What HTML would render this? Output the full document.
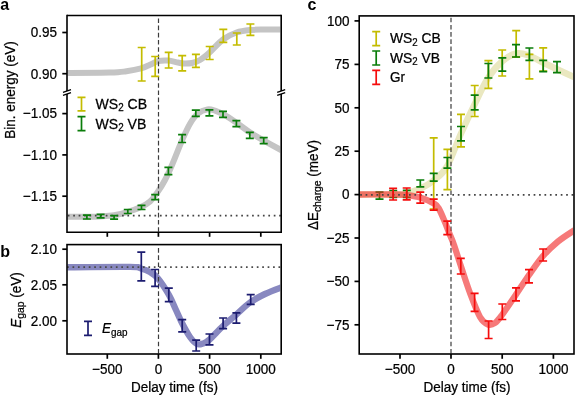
<!DOCTYPE html>
<html><head><meta charset="utf-8"><style>
html,body{margin:0;padding:0;background:#fff;}
svg{display:block;filter:blur(0.35px);}
</style></head><body>
<svg width="575" height="395" viewBox="0 0 575 395">
<defs><clipPath id="ca"><rect x="67.50" y="15.50" width="212.70" height="216.80"/></clipPath>
<clipPath id="cb"><rect x="67.50" y="244.60" width="212.70" height="109.40"/></clipPath>
<clipPath id="cc"><rect x="359.70" y="15.90" width="213.30" height="338.10"/></clipPath></defs>
<rect width="575" height="395" fill="#fff"/>
<g clip-path="url(#ca)">
<path d="M60.00,73.00 C68.33,72.93 98.92,72.90 110.00,72.60 C121.08,72.30 121.33,71.90 126.50,71.20 C131.67,70.50 137.08,69.47 141.00,68.40 C144.92,67.33 147.17,66.00 150.00,64.80 C152.83,63.60 155.00,61.90 158.00,61.20 C161.00,60.50 164.67,60.38 168.00,60.60 C171.33,60.82 175.33,62.02 178.00,62.50 C180.67,62.98 181.67,63.42 184.00,63.50 C186.33,63.58 189.33,63.58 192.00,63.00 C194.67,62.42 197.17,61.67 200.00,60.00 C202.83,58.33 205.17,56.42 209.00,53.00 C212.83,49.58 218.42,42.92 223.00,39.50 C227.58,36.08 232.00,34.08 236.50,32.50 C241.00,30.92 245.25,30.48 250.00,30.00 C254.75,29.52 258.33,29.67 265.00,29.60 C271.67,29.53 285.83,29.60 290.00,29.60" stroke="#c4c4c4" stroke-width="6" fill="none"/>
<path d="M60.00,216.80 C64.50,216.78 80.33,216.77 87.00,216.70 C93.67,216.63 95.50,216.63 100.00,216.40 C104.50,216.17 109.33,216.07 114.00,215.30 C118.67,214.53 123.50,213.18 128.00,211.80 C132.50,210.42 137.33,208.72 141.00,207.00 C144.67,205.28 147.17,204.08 150.00,201.50 C152.83,198.92 155.50,195.08 158.00,191.50 C160.50,187.92 162.67,184.42 165.00,180.00 C167.33,175.58 169.17,171.58 172.00,165.00 C174.83,158.42 179.00,147.38 182.00,140.50 C185.00,133.62 187.33,128.20 190.00,123.70 C192.67,119.20 195.08,115.88 198.00,113.50 C200.92,111.12 204.67,109.88 207.50,109.40 C210.33,108.92 212.38,109.80 215.00,110.60 C217.62,111.40 219.62,112.17 223.20,114.20 C226.78,116.23 232.07,119.78 236.50,122.80 C240.93,125.82 245.23,129.33 249.80,132.30 C254.37,135.27 258.70,137.65 263.90,140.60 C269.10,143.55 276.65,147.68 281.00,150.00 C285.35,152.32 288.50,153.75 290.00,154.50" stroke="#c4c4c4" stroke-width="6" fill="none"/>
</g>
<line x1="158.50" y1="16.50" x2="158.50" y2="232.30" stroke="#3c3c3c" stroke-width="1.2" stroke-dasharray="4.6 2.6" stroke-dashoffset="-1.90"/>
<line x1="67.80" y1="215.60" x2="281.20" y2="215.60" stroke="#444" stroke-width="1.7" stroke-dasharray="1.7 3.72"/>
<path d="M141.70,47.50V81.00M137.70,47.50H145.70M137.70,81.00H145.70" stroke="#c4bc00" stroke-width="1.70" fill="none"/>
<path d="M155.20,56.50V76.40M151.20,56.50H159.20M151.20,76.40H159.20" stroke="#c4bc00" stroke-width="1.70" fill="none"/>
<path d="M168.70,52.30V68.00M164.70,52.30H172.70M164.70,68.00H172.70" stroke="#c4bc00" stroke-width="1.70" fill="none"/>
<path d="M182.20,55.70V70.80M178.20,55.70H186.20M178.20,70.80H186.20" stroke="#c4bc00" stroke-width="1.70" fill="none"/>
<path d="M195.90,54.40V67.40M191.90,54.40H199.90M191.90,67.40H199.90" stroke="#c4bc00" stroke-width="1.70" fill="none"/>
<path d="M209.70,46.50V59.50M205.70,46.50H213.70M205.70,59.50H213.70" stroke="#c4bc00" stroke-width="1.70" fill="none"/>
<path d="M223.30,29.40V42.40M219.30,29.40H227.30M219.30,42.40H227.30" stroke="#c4bc00" stroke-width="1.70" fill="none"/>
<path d="M236.80,33.00V45.00M232.80,33.00H240.80M232.80,45.00H240.80" stroke="#c4bc00" stroke-width="1.70" fill="none"/>
<path d="M250.40,24.00V35.30M246.40,24.00H254.40M246.40,35.30H254.40" stroke="#c4bc00" stroke-width="1.70" fill="none"/>
<path d="M86.90,215.20V219.00M82.90,215.20H90.90M82.90,219.00H90.90" stroke="#0a7d0a" stroke-width="1.70" fill="none"/>
<path d="M100.60,214.30V217.80M96.60,214.30H104.60M96.60,217.80H104.60" stroke="#0a7d0a" stroke-width="1.70" fill="none"/>
<path d="M114.10,215.70V219.20M110.10,215.70H118.10M110.10,219.20H118.10" stroke="#0a7d0a" stroke-width="1.70" fill="none"/>
<path d="M127.80,209.50V213.50M123.80,209.50H131.80M123.80,213.50H131.80" stroke="#0a7d0a" stroke-width="1.70" fill="none"/>
<path d="M141.50,205.30V209.50M137.50,205.30H145.50M137.50,209.50H145.50" stroke="#0a7d0a" stroke-width="1.70" fill="none"/>
<path d="M155.20,194.70V199.60M151.20,194.70H159.20M151.20,199.60H159.20" stroke="#0a7d0a" stroke-width="1.70" fill="none"/>
<path d="M168.40,167.30V174.60M164.40,167.30H172.40M164.40,174.60H172.40" stroke="#0a7d0a" stroke-width="1.70" fill="none"/>
<path d="M182.10,134.70V142.50M178.10,134.70H186.10M178.10,142.50H186.10" stroke="#0a7d0a" stroke-width="1.70" fill="none"/>
<path d="M195.80,110.10V116.40M191.80,110.10H199.80M191.80,116.40H199.80" stroke="#0a7d0a" stroke-width="1.70" fill="none"/>
<path d="M209.40,109.80V115.80M205.40,109.80H213.40M205.40,115.80H213.40" stroke="#0a7d0a" stroke-width="1.70" fill="none"/>
<path d="M223.00,111.30V117.40M219.00,111.30H227.00M219.00,117.40H227.00" stroke="#0a7d0a" stroke-width="1.70" fill="none"/>
<path d="M236.40,120.60V126.70M232.40,120.60H240.40M232.40,126.70H240.40" stroke="#0a7d0a" stroke-width="1.70" fill="none"/>
<path d="M249.80,132.30V138.30M245.80,132.30H253.80M245.80,138.30H253.80" stroke="#0a7d0a" stroke-width="1.70" fill="none"/>
<path d="M263.70,137.60V143.70M259.70,137.60H267.70M259.70,143.70H267.70" stroke="#0a7d0a" stroke-width="1.70" fill="none"/>
<path d="M67.00,14.70V91.10M67.00,93.90V233.10" stroke="#000" stroke-width="1.60" fill="none"/>
<path d="M63.00,92.40L71.00,89.70M63.00,95.30L71.00,92.60" stroke="#000" stroke-width="1.3" fill="none"/>
<path d="M281.20,14.70V91.10M281.20,93.90V233.10" stroke="#000" stroke-width="1.60" fill="none"/>
<path d="M277.20,92.40L285.20,89.70M277.20,95.30L285.20,92.60" stroke="#000" stroke-width="1.3" fill="none"/>
<path d="M67.00,15.50H281.20M67.00,232.30H281.20" stroke="#000" stroke-width="1.60" fill="none"/>
<path d="M62.3,32.50H67.00" stroke="#000" stroke-width="1.70"/>
<path d="M62.3,73.70H67.00" stroke="#000" stroke-width="1.70"/>
<path d="M62.3,113.60H67.00" stroke="#000" stroke-width="1.70"/>
<path d="M62.3,154.90H67.00" stroke="#000" stroke-width="1.70"/>
<path d="M62.3,196.20H67.00" stroke="#000" stroke-width="1.70"/>
<path d="M107.30,232.30V236.8" stroke="#000" stroke-width="1.70"/>
<path d="M158.40,232.30V236.8" stroke="#000" stroke-width="1.70"/>
<path d="M209.60,232.30V236.8" stroke="#000" stroke-width="1.70"/>
<path d="M260.80,232.30V236.8" stroke="#000" stroke-width="1.70"/>
<text transform="matrix(0.944,0,0,1,57.00,37.30)" text-anchor="end" font-size="14.3" font-family="Liberation Sans, sans-serif" stroke="#000" stroke-width="0.25" >0.95</text>
<text transform="matrix(0.944,0,0,1,57.00,78.50)" text-anchor="end" font-size="14.3" font-family="Liberation Sans, sans-serif" stroke="#000" stroke-width="0.25" >0.90</text>
<text transform="matrix(0.944,0,0,1,57.00,118.40)" text-anchor="end" font-size="14.3" font-family="Liberation Sans, sans-serif" stroke="#000" stroke-width="0.25" >−1.05</text>
<text transform="matrix(0.944,0,0,1,57.00,159.70)" text-anchor="end" font-size="14.3" font-family="Liberation Sans, sans-serif" stroke="#000" stroke-width="0.25" >−1.10</text>
<text transform="matrix(0.944,0,0,1,57.00,201.00)" text-anchor="end" font-size="14.3" font-family="Liberation Sans, sans-serif" stroke="#000" stroke-width="0.25" >−1.15</text>
<path d="M81.50,97.30V110.90M77.50,97.30H85.50M77.50,110.90H85.50" stroke="#c4bc00" stroke-width="1.70" fill="none"/>
<path d="M81.50,116.70V130.70M77.50,116.70H85.50M77.50,130.70H85.50" stroke="#0a7d0a" stroke-width="1.70" fill="none"/>
<text transform="matrix(0.985,0,0,1,95.50,108.80)" font-size="14.3" font-family="Liberation Sans, sans-serif" stroke="#000" stroke-width="0.25" >WS<tspan font-size="10" dy="2.6">2</tspan><tspan dy="-2.6"> CB</tspan></text>
<text transform="matrix(0.985,0,0,1,95.50,128.60)" font-size="14.3" font-family="Liberation Sans, sans-serif" stroke="#000" stroke-width="0.25" >WS<tspan font-size="10" dy="2.6">2</tspan><tspan dy="-2.6"> VB</tspan></text>
<text transform="translate(15.30,90.00) rotate(-90) scale(0.944,1)" text-anchor="middle" font-size="14.3" font-family="Liberation Sans, sans-serif" stroke="#000" stroke-width="0.25">Bin. energy (eV)</text>
<text x="0.3" y="9.8" font-size="16" font-weight="bold" font-family="Liberation Sans, sans-serif">a</text>
<path d="M60.00,267.30 C71.67,267.23 116.50,266.70 130.00,266.90 C143.50,267.10 137.67,267.65 141.00,268.50 C144.33,269.35 147.17,270.33 150.00,272.00 C152.83,273.67 154.83,274.67 158.00,278.50 C161.17,282.33 166.00,289.75 169.00,295.00 C172.00,300.25 173.83,305.33 176.00,310.00 C178.17,314.67 179.67,318.50 182.00,323.00 C184.33,327.50 187.50,333.50 190.00,337.00 C192.50,340.50 194.83,342.92 197.00,344.00 C199.17,345.08 201.00,344.17 203.00,343.50 C205.00,342.83 205.67,342.92 209.00,340.00 C212.33,337.08 218.50,330.20 223.00,326.00 C227.50,321.80 231.50,318.72 236.00,314.80 C240.50,310.88 245.17,305.97 250.00,302.50 C254.83,299.03 259.83,296.48 265.00,294.00 C270.17,291.52 276.83,289.13 281.00,287.60 C285.17,286.07 288.50,285.27 290.00,284.80" stroke="#8888c0" stroke-width="6.4" fill="none" clip-path="url(#cb)"/>
<line x1="67.10" y1="267.20" x2="281.20" y2="267.20" stroke="#4a4a4a" stroke-width="1.7" stroke-dasharray="1.7 3.72"/>
<line x1="158.50" y1="245.60" x2="158.50" y2="354.00" stroke="#3c3c3c" stroke-width="1.2" stroke-dasharray="4.6 2.6" stroke-dashoffset="-2.50"/>
<path d="M141.30,252.10V280.80M137.30,252.10H145.30M137.30,280.80H145.30" stroke="#1c1c70" stroke-width="1.70" fill="none"/>
<path d="M155.10,269.50V286.30M151.10,269.50H159.10M151.10,286.30H159.10" stroke="#1c1c70" stroke-width="1.70" fill="none"/>
<path d="M168.80,288.10V301.60M164.80,288.10H172.80M164.80,301.60H172.80" stroke="#1c1c70" stroke-width="1.70" fill="none"/>
<path d="M182.20,319.60V331.90M178.20,319.60H186.20M178.20,331.90H186.20" stroke="#1c1c70" stroke-width="1.70" fill="none"/>
<path d="M196.20,340.20V351.00M192.20,340.20H200.20M192.20,351.00H200.20" stroke="#1c1c70" stroke-width="1.70" fill="none"/>
<path d="M209.50,334.00V344.80M205.50,334.00H213.50M205.50,344.80H213.50" stroke="#1c1c70" stroke-width="1.70" fill="none"/>
<path d="M223.10,318.00V328.60M219.10,318.00H227.10M219.10,328.60H227.10" stroke="#1c1c70" stroke-width="1.70" fill="none"/>
<path d="M236.40,312.80V323.10M232.40,312.80H240.40M232.40,323.10H240.40" stroke="#1c1c70" stroke-width="1.70" fill="none"/>
<path d="M250.70,294.70V304.40M246.70,294.70H254.70M246.70,304.40H254.70" stroke="#1c1c70" stroke-width="1.70" fill="none"/>
<rect x="67.00" y="244.60" width="214.20" height="109.40" fill="none" stroke="#000" stroke-width="1.60"/>
<path d="M62.3,249.20H67.00" stroke="#000" stroke-width="1.70"/>
<path d="M62.3,284.80H67.00" stroke="#000" stroke-width="1.70"/>
<path d="M62.3,320.80H67.00" stroke="#000" stroke-width="1.70"/>
<text transform="matrix(0.944,0,0,1,57.00,254.00)" text-anchor="end" font-size="14.3" font-family="Liberation Sans, sans-serif" stroke="#000" stroke-width="0.25" >2.10</text>
<text transform="matrix(0.944,0,0,1,57.00,289.60)" text-anchor="end" font-size="14.3" font-family="Liberation Sans, sans-serif" stroke="#000" stroke-width="0.25" >2.05</text>
<text transform="matrix(0.944,0,0,1,57.00,325.60)" text-anchor="end" font-size="14.3" font-family="Liberation Sans, sans-serif" stroke="#000" stroke-width="0.25" >2.00</text>
<path d="M107.30,354.00V358.8" stroke="#000" stroke-width="1.70"/>
<text transform="matrix(0.944,0,0,1,107.30,374.00)" text-anchor="middle" font-size="14.3" font-family="Liberation Sans, sans-serif" stroke="#000" stroke-width="0.25" >−500</text>
<path d="M158.40,354.00V358.8" stroke="#000" stroke-width="1.70"/>
<text transform="matrix(0.944,0,0,1,158.40,374.00)" text-anchor="middle" font-size="14.3" font-family="Liberation Sans, sans-serif" stroke="#000" stroke-width="0.25" >0</text>
<path d="M209.60,354.00V358.8" stroke="#000" stroke-width="1.70"/>
<text transform="matrix(0.944,0,0,1,209.60,374.00)" text-anchor="middle" font-size="14.3" font-family="Liberation Sans, sans-serif" stroke="#000" stroke-width="0.25" >500</text>
<path d="M260.80,354.00V358.8" stroke="#000" stroke-width="1.70"/>
<text transform="matrix(0.944,0,0,1,260.80,374.00)" text-anchor="middle" font-size="14.3" font-family="Liberation Sans, sans-serif" stroke="#000" stroke-width="0.25" >1000</text>
<text transform="matrix(0.944,0,0,1,174.50,391.50)" text-anchor="middle" font-size="14.3" font-family="Liberation Sans, sans-serif" stroke="#000" stroke-width="0.25" >Delay time (fs)</text>
<path d="M88.00,321.30V335.30M84.00,321.30H92.00M84.00,335.30H92.00" stroke="#1c1c70" stroke-width="1.70" fill="none"/>
<text transform="matrix(0.944,0,0,1,102.00,333.00)" font-size="14.3" font-family="Liberation Sans, sans-serif" stroke="#000" stroke-width="0.25" ><tspan font-style="italic">E</tspan><tspan font-size="10.5" dy="2.6">gap</tspan></text>
<text transform="translate(21.00,300.00) rotate(-90) scale(0.944,1)" text-anchor="middle" font-size="14.3" font-family="Liberation Sans, sans-serif" stroke="#000" stroke-width="0.25"><tspan font-style="italic">E</tspan><tspan font-size="11" dy="2.8">gap</tspan><tspan dy="-2.8"> (eV)</tspan></text>
<text x="0.3" y="256.6" font-size="16" font-weight="bold" font-family="Liberation Sans, sans-serif">b</text>
<path d="M350.00,194.50 C357.50,194.50 385.83,194.62 395.00,194.50 C404.17,194.38 400.83,194.75 405.00,193.80 C409.17,192.85 415.17,191.07 420.00,188.80 C424.83,186.53 429.50,183.92 434.00,180.20 C438.50,176.48 442.50,174.28 447.00,166.50 C451.50,158.72 456.33,144.00 461.00,133.50 C465.67,123.00 470.50,112.75 475.00,103.50 C479.50,94.25 483.50,85.00 488.00,78.00 C492.50,71.00 497.33,65.58 502.00,61.50 C506.67,57.42 511.50,54.50 516.00,53.50 C520.50,52.50 524.50,54.00 529.00,55.50 C533.50,57.00 538.33,60.22 543.00,62.50 C547.67,64.78 551.83,66.78 557.00,69.20 C562.17,71.62 569.33,74.87 574.00,77.00 C578.67,79.13 583.17,81.17 585.00,82.00" stroke="#eae8c0" stroke-width="6.5" fill="none" clip-path="url(#cc)"/>
<path d="M433.70,137.80V209.00M429.70,137.80H437.70M429.70,209.00H437.70" stroke="#c4bc00" stroke-width="1.70" fill="none"/>
<path d="M447.40,149.30V189.60M443.40,149.30H451.40M443.40,189.60H451.40" stroke="#c4bc00" stroke-width="1.70" fill="none"/>
<path d="M461.00,114.30V146.90M457.00,114.30H465.00M457.00,146.90H465.00" stroke="#c4bc00" stroke-width="1.70" fill="none"/>
<path d="M474.70,85.50V116.50M470.70,85.50H478.70M470.70,116.50H478.70" stroke="#c4bc00" stroke-width="1.70" fill="none"/>
<path d="M488.40,60.70V88.30M484.40,60.70H492.40M484.40,88.30H492.40" stroke="#c4bc00" stroke-width="1.70" fill="none"/>
<path d="M502.20,50.00V76.00M498.20,50.00H506.20M498.20,76.00H506.20" stroke="#c4bc00" stroke-width="1.70" fill="none"/>
<path d="M516.20,30.60V57.10M512.20,30.60H520.20M512.20,57.10H520.20" stroke="#c4bc00" stroke-width="1.70" fill="none"/>
<path d="M529.40,54.30V78.80M525.40,54.30H533.40M525.40,78.80H533.40" stroke="#c4bc00" stroke-width="1.70" fill="none"/>
<path d="M543.20,47.90V71.00M539.20,47.90H547.20M539.20,71.00H547.20" stroke="#c4bc00" stroke-width="1.70" fill="none"/>
<path d="M379.50,192.10V199.20M375.50,192.10H383.50M375.50,199.20H383.50" stroke="#0a7d0a" stroke-width="1.70" fill="none"/>
<path d="M393.20,190.50V197.50M389.20,190.50H397.20M389.20,197.50H397.20" stroke="#0a7d0a" stroke-width="1.70" fill="none"/>
<path d="M406.80,190.30V197.30M402.80,190.30H410.80M402.80,197.30H410.80" stroke="#0a7d0a" stroke-width="1.70" fill="none"/>
<path d="M420.30,180.00V186.90M416.30,180.00H424.30M416.30,186.90H424.30" stroke="#0a7d0a" stroke-width="1.70" fill="none"/>
<path d="M433.70,173.40V181.20M429.70,173.40H437.70M429.70,181.20H437.70" stroke="#0a7d0a" stroke-width="1.70" fill="none"/>
<path d="M447.40,157.50V168.10M443.40,157.50H451.40M443.40,168.10H451.40" stroke="#0a7d0a" stroke-width="1.70" fill="none"/>
<path d="M461.00,126.50V140.80M457.00,126.50H465.00M457.00,140.80H465.00" stroke="#0a7d0a" stroke-width="1.70" fill="none"/>
<path d="M474.70,95.20V109.80M470.70,95.20H478.70M470.70,109.80H478.70" stroke="#0a7d0a" stroke-width="1.70" fill="none"/>
<path d="M488.40,63.50V78.00M484.40,63.50H492.40M484.40,78.00H492.40" stroke="#0a7d0a" stroke-width="1.70" fill="none"/>
<path d="M502.30,57.90V71.20M498.30,57.90H506.30M498.30,71.20H506.30" stroke="#0a7d0a" stroke-width="1.70" fill="none"/>
<path d="M516.00,44.60V57.00M512.00,44.60H520.00M512.00,57.00H520.00" stroke="#0a7d0a" stroke-width="1.70" fill="none"/>
<path d="M529.40,48.00V60.30M525.40,48.00H533.40M525.40,60.30H533.40" stroke="#0a7d0a" stroke-width="1.70" fill="none"/>
<path d="M543.20,60.30V71.70M539.20,60.30H547.20M539.20,71.70H547.20" stroke="#0a7d0a" stroke-width="1.70" fill="none"/>
<path d="M557.00,61.70V72.70M553.00,61.70H561.00M553.00,72.70H561.00" stroke="#0a7d0a" stroke-width="1.70" fill="none"/>
<line x1="451.00" y1="16.90" x2="451.00" y2="354.00" stroke="#3c3c3c" stroke-width="1.2" stroke-dasharray="4.6 2.6" stroke-dashoffset="-0.80"/>
<path d="M350.00,194.50 C357.50,194.50 385.50,194.40 395.00,194.50 C404.50,194.60 402.67,194.55 407.00,195.10 C411.33,195.65 416.50,196.40 421.00,197.80 C425.50,199.20 431.08,201.80 434.00,203.50 C436.92,205.20 436.80,205.20 438.50,208.00 C440.20,210.80 442.42,216.13 444.20,220.30 C445.98,224.47 447.57,228.88 449.20,233.00 C450.83,237.12 451.95,239.17 454.00,245.00 C456.05,250.83 458.83,260.00 461.50,268.00 C464.17,276.00 466.92,284.83 470.00,293.00 C473.08,301.17 477.00,311.75 480.00,317.00 C483.00,322.25 485.50,323.50 488.00,324.50 C490.50,325.50 492.67,324.58 495.00,323.00 C497.33,321.42 498.50,319.75 502.00,315.00 C505.50,310.25 511.50,301.17 516.00,294.50 C520.50,287.83 524.50,281.42 529.00,275.00 C533.50,268.58 538.17,261.58 543.00,256.00 C547.83,250.42 552.83,245.75 558.00,241.50 C563.17,237.25 569.50,233.42 574.00,230.50 C578.50,227.58 583.17,225.08 585.00,224.00" stroke="#f02a2a" stroke-opacity="0.63" stroke-width="6.3" fill="none" clip-path="url(#cc)"/>
<line x1="360.20" y1="194.80" x2="574.00" y2="194.80" stroke="#444" stroke-width="1.7" stroke-dasharray="1.7 3.72"/>
<path d="M393.10,188.30V200.00M389.10,188.30H397.10M389.10,200.00H397.10" stroke="#f50c0c" stroke-width="1.70" fill="none"/>
<path d="M406.70,188.00V199.80M402.70,188.00H410.70M402.70,199.80H410.70" stroke="#f50c0c" stroke-width="1.70" fill="none"/>
<path d="M420.30,192.20V203.10M416.30,192.20H424.30M416.30,203.10H424.30" stroke="#f50c0c" stroke-width="1.70" fill="none"/>
<path d="M433.70,199.20V210.20M429.70,199.20H437.70M429.70,210.20H437.70" stroke="#f50c0c" stroke-width="1.70" fill="none"/>
<path d="M447.30,221.20V234.60M443.30,221.20H451.30M443.30,234.60H451.30" stroke="#f50c0c" stroke-width="1.70" fill="none"/>
<path d="M460.80,258.30V274.00M456.80,258.30H464.80M456.80,274.00H464.80" stroke="#f50c0c" stroke-width="1.70" fill="none"/>
<path d="M474.60,293.30V311.30M470.60,293.30H478.60M470.60,311.30H478.60" stroke="#f50c0c" stroke-width="1.70" fill="none"/>
<path d="M488.60,321.00V338.50M484.60,321.00H492.60M484.60,338.50H492.60" stroke="#f50c0c" stroke-width="1.70" fill="none"/>
<path d="M502.30,304.00V319.50M498.30,304.00H506.30M498.30,319.50H506.30" stroke="#f50c0c" stroke-width="1.70" fill="none"/>
<path d="M516.00,287.80V300.80M512.00,287.80H520.00M512.00,300.80H520.00" stroke="#f50c0c" stroke-width="1.70" fill="none"/>
<path d="M529.00,269.70V282.80M525.00,269.70H533.00M525.00,282.80H533.00" stroke="#f50c0c" stroke-width="1.70" fill="none"/>
<path d="M543.10,249.00V261.00M539.10,249.00H547.10M539.10,261.00H547.10" stroke="#f50c0c" stroke-width="1.70" fill="none"/>
<rect x="359.20" y="15.90" width="214.80" height="338.10" fill="none" stroke="#000" stroke-width="1.60"/>
<path d="M354.5,20.90H359.20" stroke="#000" stroke-width="1.70"/>
<text transform="matrix(0.944,0,0,1,349.50,25.70)" text-anchor="end" font-size="14.3" font-family="Liberation Sans, sans-serif" stroke="#000" stroke-width="0.25" >100</text>
<path d="M354.5,64.40H359.20" stroke="#000" stroke-width="1.70"/>
<text transform="matrix(0.944,0,0,1,349.50,69.20)" text-anchor="end" font-size="14.3" font-family="Liberation Sans, sans-serif" stroke="#000" stroke-width="0.25" >75</text>
<path d="M354.5,107.80H359.20" stroke="#000" stroke-width="1.70"/>
<text transform="matrix(0.944,0,0,1,349.50,112.60)" text-anchor="end" font-size="14.3" font-family="Liberation Sans, sans-serif" stroke="#000" stroke-width="0.25" >50</text>
<path d="M354.5,151.20H359.20" stroke="#000" stroke-width="1.70"/>
<text transform="matrix(0.944,0,0,1,349.50,156.00)" text-anchor="end" font-size="14.3" font-family="Liberation Sans, sans-serif" stroke="#000" stroke-width="0.25" >25</text>
<path d="M354.5,194.60H359.20" stroke="#000" stroke-width="1.70"/>
<text transform="matrix(0.944,0,0,1,349.50,199.40)" text-anchor="end" font-size="14.3" font-family="Liberation Sans, sans-serif" stroke="#000" stroke-width="0.25" >0</text>
<path d="M354.5,238.00H359.20" stroke="#000" stroke-width="1.70"/>
<text transform="matrix(0.944,0,0,1,349.50,242.80)" text-anchor="end" font-size="14.3" font-family="Liberation Sans, sans-serif" stroke="#000" stroke-width="0.25" >−25</text>
<path d="M354.5,281.40H359.20" stroke="#000" stroke-width="1.70"/>
<text transform="matrix(0.944,0,0,1,349.50,286.20)" text-anchor="end" font-size="14.3" font-family="Liberation Sans, sans-serif" stroke="#000" stroke-width="0.25" >−50</text>
<path d="M354.5,324.80H359.20" stroke="#000" stroke-width="1.70"/>
<text transform="matrix(0.944,0,0,1,349.50,329.60)" text-anchor="end" font-size="14.3" font-family="Liberation Sans, sans-serif" stroke="#000" stroke-width="0.25" >−75</text>
<path d="M400.00,354.00V358.8" stroke="#000" stroke-width="1.70"/>
<text transform="matrix(0.944,0,0,1,400.00,374.00)" text-anchor="middle" font-size="14.3" font-family="Liberation Sans, sans-serif" stroke="#000" stroke-width="0.25" >−500</text>
<path d="M451.00,354.00V358.8" stroke="#000" stroke-width="1.70"/>
<text transform="matrix(0.944,0,0,1,451.00,374.00)" text-anchor="middle" font-size="14.3" font-family="Liberation Sans, sans-serif" stroke="#000" stroke-width="0.25" >0</text>
<path d="M502.20,354.00V358.8" stroke="#000" stroke-width="1.70"/>
<text transform="matrix(0.944,0,0,1,502.20,374.00)" text-anchor="middle" font-size="14.3" font-family="Liberation Sans, sans-serif" stroke="#000" stroke-width="0.25" >500</text>
<path d="M553.40,354.00V358.8" stroke="#000" stroke-width="1.70"/>
<text transform="matrix(0.944,0,0,1,553.40,374.00)" text-anchor="middle" font-size="14.3" font-family="Liberation Sans, sans-serif" stroke="#000" stroke-width="0.25" >1000</text>
<text transform="matrix(0.944,0,0,1,467.00,391.50)" text-anchor="middle" font-size="14.3" font-family="Liberation Sans, sans-serif" stroke="#000" stroke-width="0.25" >Delay time (fs)</text>
<path d="M376.20,31.60V45.60M372.20,31.60H380.20M372.20,45.60H380.20" stroke="#c4bc00" stroke-width="1.70" fill="none"/>
<path d="M376.20,51.00V65.00M372.20,51.00H380.20M372.20,65.00H380.20" stroke="#0a7d0a" stroke-width="1.70" fill="none"/>
<path d="M376.20,70.30V84.30M372.20,70.30H380.20M372.20,84.30H380.20" stroke="#f50c0c" stroke-width="1.70" fill="none"/>
<text transform="matrix(0.970,0,0,1,390.00,43.30)" font-size="14.3" font-family="Liberation Sans, sans-serif" stroke="#000" stroke-width="0.25" >WS<tspan font-size="10" dy="2.6">2</tspan><tspan dy="-2.6"> CB</tspan></text>
<text transform="matrix(0.970,0,0,1,390.00,62.50)" font-size="14.3" font-family="Liberation Sans, sans-serif" stroke="#000" stroke-width="0.25" >WS<tspan font-size="10" dy="2.6">2</tspan><tspan dy="-2.6"> VB</tspan></text>
<text transform="matrix(0.944,0,0,1,390.00,81.50)" font-size="14.3" font-family="Liberation Sans, sans-serif" stroke="#000" stroke-width="0.25" >Gr</text>
<text transform="translate(317.80,185.00) rotate(-90) scale(0.944,1)" text-anchor="middle" font-size="14.3" font-family="Liberation Sans, sans-serif" stroke="#000" stroke-width="0.25">ΔE<tspan font-size="11" dy="2.8">charge</tspan><tspan dy="-2.8"> (meV)</tspan></text>
<text x="307.5" y="9.8" font-size="16" font-weight="bold" font-family="Liberation Sans, sans-serif">c</text>
</svg>
</body></html>
